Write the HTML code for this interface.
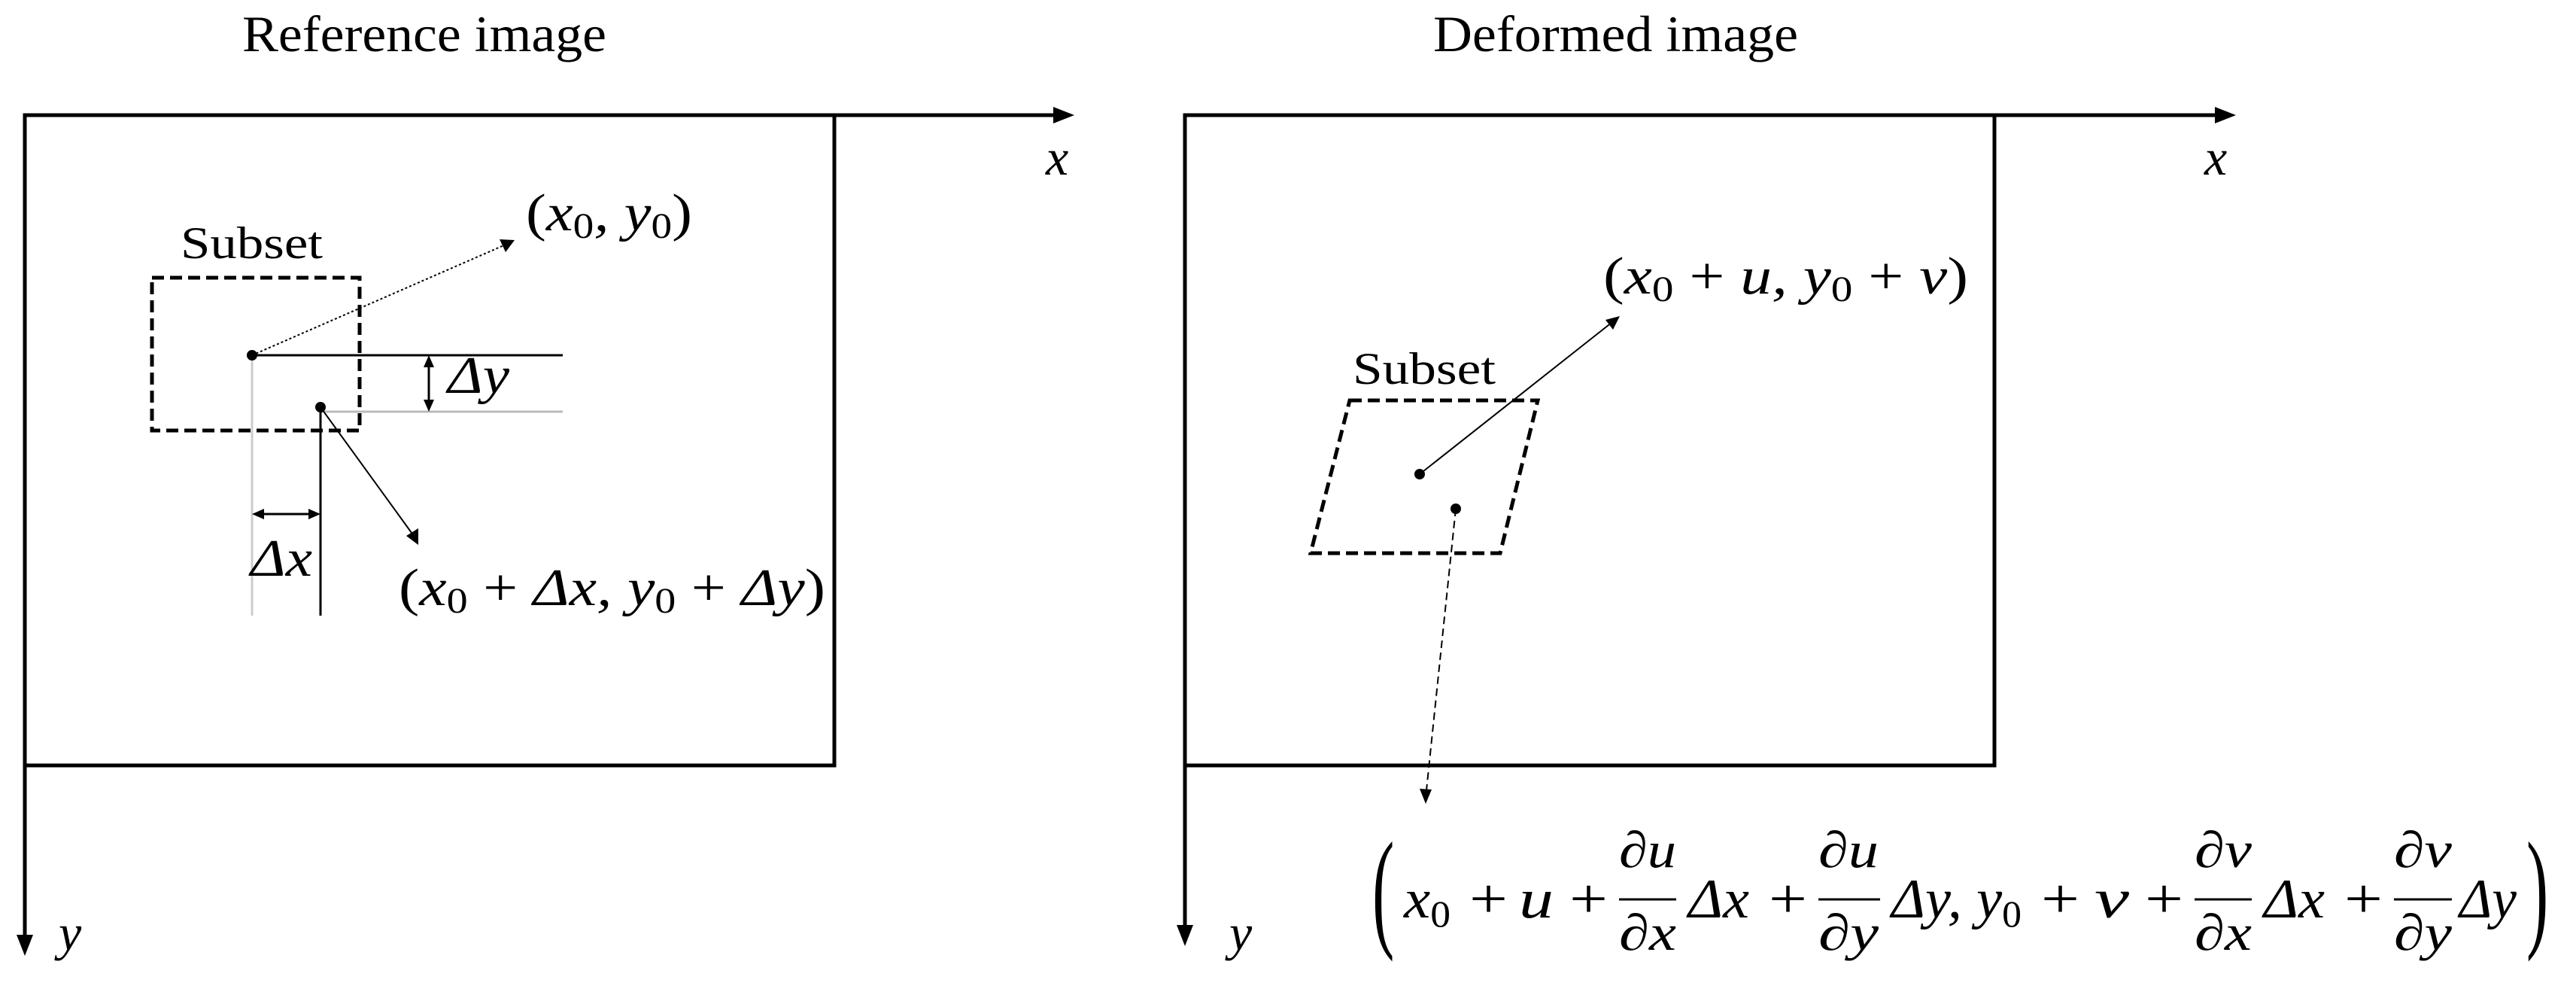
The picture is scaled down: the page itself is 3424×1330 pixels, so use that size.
<!DOCTYPE html>
<html><head><meta charset="utf-8"><style>html,body{margin:0;padding:0;background:#fff}svg{display:block}</style></head>
<body>
<svg width="3424" height="1330" viewBox="0 0 3424 1330" xmlns="http://www.w3.org/2000/svg">
<g font-family="Liberation Serif, serif" fill="#000">
<text x="322" y="68" font-size="68" textLength="484" lengthAdjust="spacingAndGlyphs">Reference image</text>
<text x="1905" y="68" font-size="68" textLength="485" lengthAdjust="spacingAndGlyphs">Deformed image</text>
</g>
<g stroke="#000" stroke-width="5" fill="none">
<polyline points="33,1017 33,153 1405,153"/>
<rect x="33" y="153" width="1076" height="864"/>
<line x1="33" y1="153" x2="33" y2="1248"/>
<polyline points="1575,1017 1575,153 2950,153"/>
<rect x="1575" y="153" width="1076" height="864"/>
<line x1="1575" y1="153" x2="1575" y2="1235"/>
</g>
<g fill="#000">
<polygon points="1428,153 1400,142 1400,164"/>
<polygon points="33,1270 22,1242 44,1242"/>
<polygon points="2972,153 2944,142 2944,164"/>
<polygon points="1575,1257 1564,1229 1586,1229"/>
</g>
<g font-family="Liberation Serif, serif" font-style="italic" fill="#000" font-size="68">
<text x="1390" y="232">x</text>
<text x="78" y="1262">y</text>
<text x="2930" y="232">x</text>
<text x="1634" y="1262">y</text>
</g>
<rect x="202" y="369" width="276" height="203" fill="none" stroke="#000" stroke-width="5" stroke-dasharray="16,8"/>
<text x="240" y="343" font-family="Liberation Serif, serif" font-size="60" textLength="189" lengthAdjust="spacingAndGlyphs">Subset</text>
<line x1="335" y1="472" x2="748" y2="472" stroke="#000" stroke-width="3"/>
<line x1="426" y1="547" x2="748" y2="547" stroke="#bbb" stroke-width="3"/>
<line x1="335" y1="472" x2="335" y2="818" stroke="#ccc" stroke-width="3"/>
<line x1="426" y1="541" x2="426" y2="818" stroke="#000" stroke-width="3"/>
<circle cx="335" cy="472" r="7"/>
<circle cx="426" cy="541" r="7"/>
<line x1="335" y1="472" x2="672" y2="325" stroke="#000" stroke-width="2" stroke-dasharray="3,3"/>
<polygon points="684,319 664,318 672,335"/>
<line x1="426" y1="541" x2="550" y2="712" stroke="#000" stroke-width="2"/>
<polygon points="556,724 540,712 556,702"/>
<line x1="570" y1="482" x2="570" y2="537" stroke="#000" stroke-width="3"/>
<polygon points="570,472 563,488 577,488"/>
<polygon points="570,547 563,531 577,531"/>
<line x1="345" y1="683" x2="416" y2="683" stroke="#000" stroke-width="3"/>
<polygon points="335,683 351,676 351,690"/>
<polygon points="426,683 410,676 410,690"/>
<g font-family="Liberation Serif, serif" font-style="italic" fill="#000">
<text x="699" y="306" font-size="70" textLength="221" lengthAdjust="spacingAndGlyphs"><tspan font-style="normal">(</tspan>x<tspan font-style="normal" font-size="48" dy="10">0</tspan><tspan dy="-10">, y</tspan><tspan font-style="normal" font-size="48" dy="10">0</tspan><tspan dy="-10" font-style="normal">)</tspan></text>
<text x="595" y="522" font-size="70" textLength="82" lengthAdjust="spacingAndGlyphs">Δy</text>
<text x="333" y="765" font-size="70" textLength="82" lengthAdjust="spacingAndGlyphs">Δx</text>
<text x="530" y="804" font-size="70" textLength="567" lengthAdjust="spacingAndGlyphs"><tspan font-style="normal">(</tspan>x<tspan font-style="normal" font-size="48" dy="10">0</tspan><tspan dy="-10" font-style="normal"> + </tspan>Δx, y<tspan font-style="normal" font-size="48" dy="10">0</tspan><tspan dy="-10" font-style="normal"> + </tspan>Δy<tspan font-style="normal">)</tspan></text>
<text x="2131" y="390" font-size="70" textLength="485" lengthAdjust="spacingAndGlyphs"><tspan font-style="normal">(</tspan>x<tspan font-style="normal" font-size="48" dy="10">0</tspan><tspan dy="-10" font-style="normal"> + </tspan>u, y<tspan font-style="normal" font-size="48" dy="10">0</tspan><tspan dy="-10" font-style="normal"> + </tspan>v<tspan font-style="normal">)</tspan></text>
</g>
<polygon points="1794,532 2044,532 1994,735 1742,735" fill="none" stroke="#000" stroke-width="5" stroke-dasharray="16,8"/>
<text x="1798" y="510" font-family="Liberation Serif, serif" font-size="60" textLength="190" lengthAdjust="spacingAndGlyphs">Subset</text>
<circle cx="1887" cy="630" r="7"/>
<circle cx="1935" cy="676" r="7"/>
<line x1="1887" y1="630" x2="2143" y2="428" stroke="#000" stroke-width="2"/>
<polygon points="2153,420 2134,425 2144,438"/>
<line x1="1935" y1="676" x2="1896" y2="1050" stroke="#000" stroke-width="2" stroke-dasharray="10,6"/>
<polygon points="1895,1068 1887,1048 1903,1049"/>
<g font-family="Liberation Serif, serif" font-style="italic" fill="#000" font-size="74">
<text transform="translate(1824,1240) scale(0.8,1.6)" font-style="normal" font-size="110">(</text>
<text transform="translate(3358,1240) scale(0.8,1.6)" font-style="normal" font-size="110">)</text>
<text x="1866" y="1219" textLength="62" lengthAdjust="spacingAndGlyphs">x<tspan font-style="normal" font-size="50" dy="12">0</tspan></text>
<g font-style="normal">
<text x="1953" y="1219" textLength="51" lengthAdjust="spacingAndGlyphs">+</text>
<text x="2086" y="1219" textLength="51" lengthAdjust="spacingAndGlyphs">+</text>
<text x="2351" y="1219" textLength="51" lengthAdjust="spacingAndGlyphs">+</text>
<text x="2713" y="1219" textLength="51" lengthAdjust="spacingAndGlyphs">+</text>
<text x="2851" y="1219" textLength="51" lengthAdjust="spacingAndGlyphs">+</text>
<text x="3116" y="1219" textLength="51" lengthAdjust="spacingAndGlyphs">+</text>
</g>
<text x="2019" y="1219" textLength="46" lengthAdjust="spacingAndGlyphs">u</text>
<text x="2244" y="1219" textLength="81" lengthAdjust="spacingAndGlyphs">Δx</text>
<text x="2514" y="1219" textLength="173" lengthAdjust="spacingAndGlyphs">Δy, y<tspan font-style="normal" font-size="50" dy="12">0</tspan></text>
<text x="2784" y="1219" textLength="46" lengthAdjust="spacingAndGlyphs">v</text>
<text x="3009" y="1219" textLength="81" lengthAdjust="spacingAndGlyphs">Δx</text>
<text x="3269" y="1219" textLength="76" lengthAdjust="spacingAndGlyphs">Δy</text>
<g font-size="68">
<text x="2152" y="1152" textLength="76" lengthAdjust="spacingAndGlyphs">∂u</text>
<text x="2152" y="1262" textLength="76" lengthAdjust="spacingAndGlyphs">∂x</text>
<text x="2417" y="1152" textLength="80" lengthAdjust="spacingAndGlyphs">∂u</text>
<text x="2417" y="1262" textLength="80" lengthAdjust="spacingAndGlyphs">∂y</text>
<text x="2917" y="1152" textLength="76" lengthAdjust="spacingAndGlyphs">∂v</text>
<text x="2917" y="1262" textLength="76" lengthAdjust="spacingAndGlyphs">∂x</text>
<text x="3182" y="1152" textLength="77" lengthAdjust="spacingAndGlyphs">∂v</text>
<text x="3182" y="1262" textLength="77" lengthAdjust="spacingAndGlyphs">∂y</text>
</g>
</g>
<g stroke="#000" stroke-width="3">
<line x1="2152" y1="1195" x2="2228" y2="1195"/>
<line x1="2417" y1="1195" x2="2499" y2="1195"/>
<line x1="2917" y1="1195" x2="2993" y2="1195"/>
<line x1="3182" y1="1195" x2="3259" y2="1195"/>
</g>
</svg>
</body></html>
